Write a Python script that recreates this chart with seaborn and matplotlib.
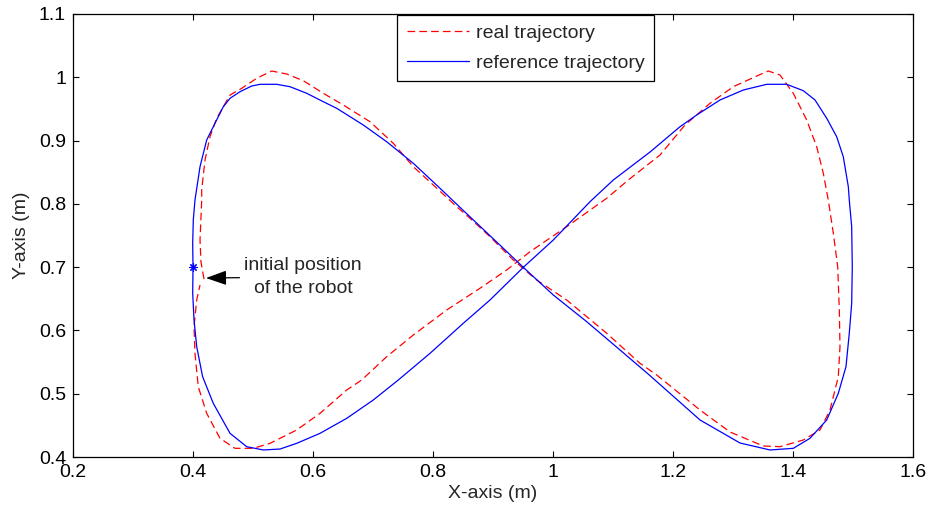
import numpy as np
import pandas as pd
import seaborn as sns
import matplotlib
matplotlib.use("Agg")
import matplotlib.pyplot as plt

# ---- data ----
ref_x = [0.400, 0.3995, 0.4005, 0.4033, 0.4117, 0.4228, 0.4338, 0.4505, 0.4617, 0.4783,
         0.4978, 0.5117, 0.5395, 0.5617, 0.5895, 0.6172, 0.6395, 0.6838, 0.7228, 0.7672,
         0.8117, 0.8533, 0.8783, 0.9228, 0.9505, 1.0005, 1.0562, 1.1117, 1.1600, 1.2450,
         1.3117, 1.3617, 1.4005, 1.4283, 1.4562, 1.4755, 1.4883, 1.4938, 1.4978, 1.4988,
         1.4978, 1.4938, 1.4922, 1.4838, 1.4728, 1.4562, 1.4367, 1.4172, 1.3895, 1.3562,
         1.3172, 1.2783, 1.2395, 1.2117, 1.1617, 1.1005, 1.0617, 1.0005, 0.9505, 0.8950,
         0.8505, 0.7950, 0.7422, 0.7005, 0.6562, 0.6117, 0.5728, 0.5450, 0.5172, 0.4895,
         0.4617, 0.4338, 0.4160, 0.4062, 0.4017, 0.3995, 0.400]
ref_y = [0.700, 0.7377, 0.7745, 0.8060, 0.8587, 0.9009, 0.9219, 0.9535, 0.9668, 0.9772,
         0.9862, 0.9889, 0.9889, 0.9851, 0.9747, 0.9614, 0.9510, 0.9246, 0.8982, 0.8641,
         0.8246, 0.7870, 0.7647, 0.7247, 0.6997, 0.6560, 0.6138, 0.5691, 0.5300, 0.4585,
         0.4221, 0.4111, 0.4137, 0.4295, 0.4585, 0.5006, 0.5427, 0.5954, 0.6429, 0.7007,
         0.7639, 0.8061, 0.8271, 0.8745, 0.9061, 0.9352, 0.9641, 0.9788, 0.9889, 0.9889,
         0.9799, 0.9641, 0.9404, 0.9219, 0.8819, 0.8377, 0.8034, 0.7429, 0.6997, 0.6481,
         0.6113, 0.5638, 0.5217, 0.4901, 0.4611, 0.4374, 0.4216, 0.4126, 0.4111, 0.4163,
         0.4374, 0.4848, 0.5270, 0.5743, 0.6165, 0.6587, 0.700]

real_x = [0.4183, 0.4133, 0.4117, 0.4145, 0.4145, 0.4200, 0.4283, 0.4395, 0.4617, 0.4812,
          0.5062, 0.5312, 0.5562, 0.5838, 0.6172, 0.6505, 0.6950, 0.7338, 0.7672, 0.8005,
          0.8395, 0.8617, 0.8950, 0.9338, 0.9728, 1.0228, 1.0895, 1.1450, 1.1728, 1.2450,
          1.2950, 1.3505, 1.3783, 1.4172, 1.4450, 1.4617, 1.4755, 1.4783, 1.4772, 1.4745,
          1.4672, 1.4588, 1.4505, 1.4395, 1.4228, 1.4005, 1.3783, 1.3588, 1.3395, 1.3005,
          1.2617, 1.2200, 1.1783, 1.1255, 1.0895, 1.0228, 0.9617, 0.9228, 0.8783, 0.8228,
          0.7672, 0.7228, 0.6812, 0.6562, 0.6117, 0.5728, 0.5283, 0.5005, 0.4700, 0.4450,
          0.4228, 0.4088, 0.4033, 0.4017, 0.4062, 0.4117]
real_y = [0.6812, 0.7081, 0.7429, 0.8061, 0.8219, 0.8693, 0.9061, 0.9352, 0.9720, 0.9826,
          0.9984, 1.0099, 1.0052, 0.9946, 0.9747, 0.9562, 0.9298, 0.8957, 0.8587, 0.8298,
          0.7955, 0.7772, 0.7481, 0.7113, 0.6797, 0.6481, 0.5955, 0.5480, 0.5296, 0.4743,
          0.4395, 0.4174, 0.4163, 0.4269, 0.4427, 0.4743, 0.5269, 0.5743, 0.6323, 0.7007,
          0.7535, 0.8061, 0.8483, 0.8903, 0.9325, 0.9747, 1.0036, 1.0099, 1.0020, 0.9851,
          0.9589, 0.9246, 0.8772, 0.8377, 0.8088, 0.7639, 0.7244, 0.6955, 0.6666, 0.6323,
          0.5928, 0.5585, 0.5217, 0.5059, 0.4690, 0.4427, 0.4216, 0.4137, 0.4137, 0.4295,
          0.4690, 0.5111, 0.5638, 0.6059, 0.6481, 0.6718]

start_x = [0.400]
start_y = [0.700]

x_ticks = [0.2, 0.4, 0.6, 0.8, 1.0, 1.2, 1.4, 1.6]
x_tick_labels = ["0.2", "0.4", "0.6", "0.8", "1", "1.2", "1.4", "1.6"]
y_ticks = [0.4, 0.5, 0.6, 0.7, 0.8, 0.9, 1.0, 1.1]
y_tick_labels = ["0.4", "0.5", "0.6", "0.7", "0.8", "0.9", "1", "1.1"]

labels = ["real trajectory", "reference trajectory"]

# ---- style ----
sns.set_style("ticks")
plt.rcParams["font.family"] = ["Liberation Sans", "DejaVu Sans"]
plt.rcParams["lines.scale_dashes"] = False

FS = 14

fig = plt.figure(figsize=(9.36, 5.14), dpi=100)
ax = fig.add_axes([73 / 936, 1 - 457 / 514, 840 / 936, 443 / 514])

real_df = pd.DataFrame({"x": real_x, "y": real_y})
ref_df = pd.DataFrame({"x": ref_x, "y": ref_y})

sns.lineplot(data=real_df, x="x", y="y", sort=False, estimator=None, ax=ax,
             color="#ff0000", lw=0.9, linestyle=(0, (5.5, 3.0)), label=labels[0])
sns.lineplot(data=ref_df, x="x", y="y", sort=False, estimator=None, ax=ax,
             color="#0000ff", lw=0.9, label=labels[1])
ax.plot(start_x, start_y, linestyle="none", marker=(8, 2, 0), ms=6,
        mec="#0000ff", mew=0.8, color="#0000ff")

ax.set_xlim(0.2, 1.6)
ax.set_ylim(0.4, 1.1)
ax.set_xticks(x_ticks)
ax.set_xticklabels(x_tick_labels)
ax.set_yticks(y_ticks)
ax.set_yticklabels(y_tick_labels)
ax.tick_params(direction="in", top=True, right=True, length=4, width=0.8,
               labelsize=FS, pad=5, colors="black")
for s in ax.spines.values():
    s.set_visible(True)
    s.set_linewidth(0.9)
    s.set_color("black")

ax.set_xlabel("X-axis (m)", fontsize=FS, labelpad=3)
ax.set_ylabel("Y-axis (m)", fontsize=FS, labelpad=6)

ax.annotate("initial position\nof the robot", xy=(0.4217, 0.6828),
            xytext=(0.5833, 0.6844), ha="center", va="center", fontsize=FS,
            linespacing=1.4,
            arrowprops=dict(arrowstyle="-|>,head_length=0.9,head_width=0.32",
                            color="black", lw=0.9, shrinkA=1, shrinkB=0))

leg = ax.legend(loc="upper center", bbox_to_anchor=(0.539, 1.0), fontsize=FS,
                frameon=True, fancybox=False, edgecolor="black", framealpha=1,
                borderaxespad=0.05, handlelength=3.2, handletextpad=0.35,
                labelspacing=0.6, borderpad=0.5)
leg.get_frame().set_linewidth(0.9)

fig.savefig("out.png", dpi=100)
